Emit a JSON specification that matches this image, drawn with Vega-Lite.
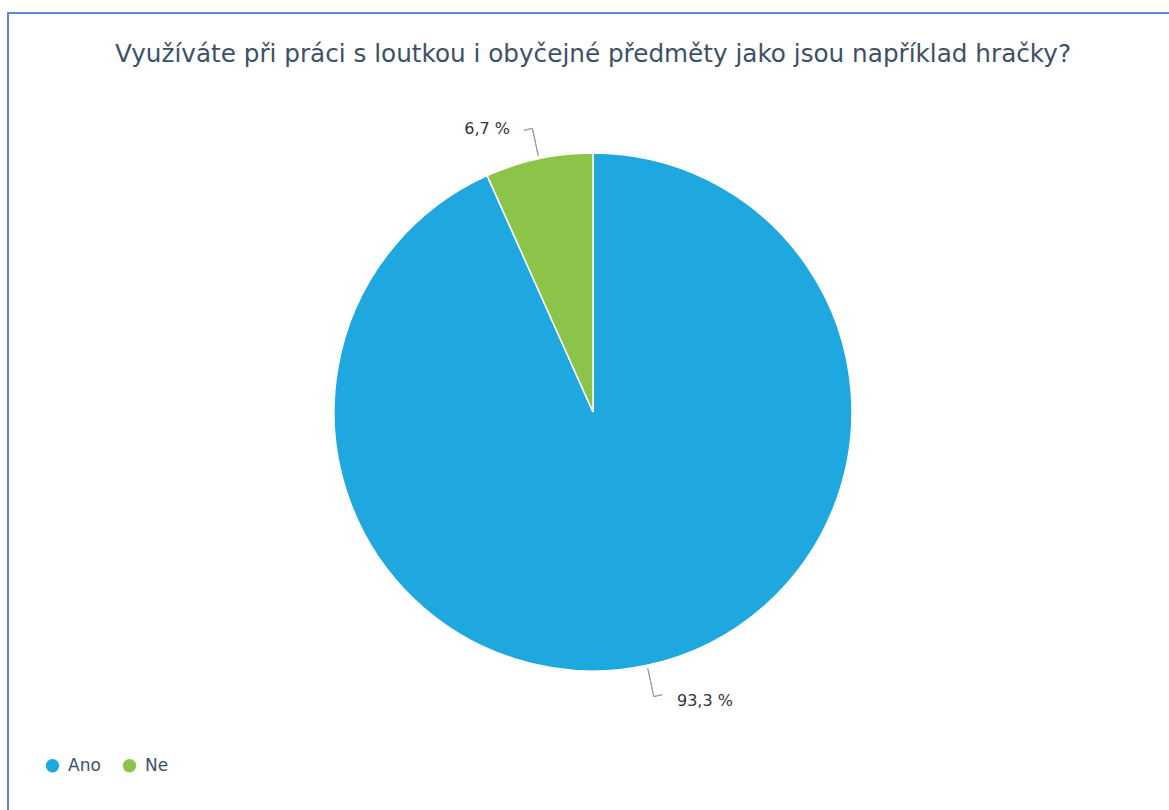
{
  "$schema": "https://vega.github.io/schema/vega-lite/v6.json",
  "width": 1169,
  "height": 810,
  "autosize": {"type": "fit", "contains": "padding"},
  "padding": {"left": 7, "top": 12, "right": -10, "bottom": -2},
  "background": "white",
  "title": {
    "text": "Využíváte při práci s loutkou i obyčejné předměty jako jsou například hračky?",
    "anchor": "middle",
    "orient": "top",
    "offset": -68,
    "baseline": "middle",
    "font": "DejaVu Sans",
    "fontSize": 24.7,
    "fontWeight": "normal",
    "color": "#3d5166"
  },
  "config": {
    "view": {"stroke": "#5b8ccf", "strokeWidth": 2}
  },
  "data": {
    "values": [
      {"answer": "Ano", "percent": 93.3, "label": "93,3 %"},
      {"answer": "Ne", "percent": 6.7, "label": "6,7 %"}
    ]
  },
  "transform": [
    {"stack": "percent", "groupby": [], "sort": [{"field": "answer", "order": "ascending"}], "as": ["start", "end"]}
  ],
  "layer": [
    {
      "mark": {"type": "rect", "fill": null, "stroke": "#5b8ccf", "strokeWidth": 2},
      "encoding": {}
    },
    {
      "mark": {"type": "arc", "outerRadius": 259, "stroke": "white", "strokeWidth": 1.5},
      "encoding": {
        "theta": {"field": "start", "type": "quantitative", "scale": {"domain": [0, 100]}},
        "theta2": {"field": "end"},
        "color": {
          "field": "answer",
          "type": "nominal",
          "scale": {"domain": ["Ano", "Ne"], "range": ["#1fa8e0", "#8bc449"]},
          "legend": {
            "title": null,
            "orient": "none",
            "direction": "horizontal",
            "legendX": 36,
            "legendY": 744,
            "symbolType": "circle",
            "symbolSize": 180,
            "symbolStrokeWidth": 0,
            "labelFont": "DejaVu Sans",
            "labelFontSize": 17,
            "labelColor": "#3d5166",
            "columnPadding": 20,
            "labelOffset": 7
          }
        }
      }
    },
    {
      "transform": [{"filter": "datum.answer === 'Ne'"}],
      "mark": {"type": "arc", "innerRadius": 262, "outerRadius": 290, "thetaOffset": 0.2105, "theta2Offset": -0.2105, "fill": null, "stroke": "#9a9a9a", "strokeWidth": 1},
      "encoding": {
        "theta": {"field": "start", "type": "quantitative", "scale": {"domain": [0, 100]}},
        "theta2": {"field": "end"}
      }
    },
    {
      "transform": [{"filter": "datum.answer === 'Ne'"}],
      "mark": {"type": "arc", "innerRadius": 290, "outerRadius": 290, "thetaOffset": 0.1805, "theta2Offset": -0.2105, "fill": null, "stroke": "#9a9a9a", "strokeWidth": 1},
      "encoding": {
        "theta": {"field": "start", "type": "quantitative", "scale": {"domain": [0, 100]}},
        "theta2": {"field": "end"}
      }
    },
    {
      "transform": [{"filter": "datum.answer === 'Ano'"}],
      "mark": {"type": "arc", "innerRadius": 262, "outerRadius": 291, "thetaOffset": 2.9311, "theta2Offset": -2.9311, "fill": null, "stroke": "#9a9a9a", "strokeWidth": 1},
      "encoding": {
        "theta": {"field": "start", "type": "quantitative", "scale": {"domain": [0, 100]}},
        "theta2": {"field": "end"}
      }
    },
    {
      "transform": [{"filter": "datum.answer === 'Ano'"}],
      "mark": {"type": "arc", "innerRadius": 291, "outerRadius": 291, "thetaOffset": 2.9011, "theta2Offset": -2.9311, "fill": null, "stroke": "#9a9a9a", "strokeWidth": 1},
      "encoding": {
        "theta": {"field": "start", "type": "quantitative", "scale": {"domain": [0, 100]}},
        "theta2": {"field": "end"}
      }
    },
    {
      "mark": {"type": "text", "radius": 292, "align": "right", "baseline": "middle", "dx": -22, "dy": 3, "font": "DejaVu Sans", "fontSize": 16, "fill": "#333333"},
      "encoding": {
        "theta": {"field": "percent", "type": "quantitative", "stack": true},
        "order": {"field": "answer", "type": "nominal", "sort": "ascending"},
        "text": {"condition": {"test": "datum.answer === 'Ne'", "field": "label"}, "value": ""}
      }
    },
    {
      "mark": {"type": "text", "radius": 292, "align": "left", "baseline": "middle", "dx": 23, "dy": 3.5, "font": "DejaVu Sans", "fontSize": 16, "fill": "#333333"},
      "encoding": {
        "theta": {"field": "percent", "type": "quantitative", "stack": true},
        "order": {"field": "answer", "type": "nominal", "sort": "ascending"},
        "text": {"condition": {"test": "datum.answer === 'Ano'", "field": "label"}, "value": ""}
      }
    }
  ]
}
